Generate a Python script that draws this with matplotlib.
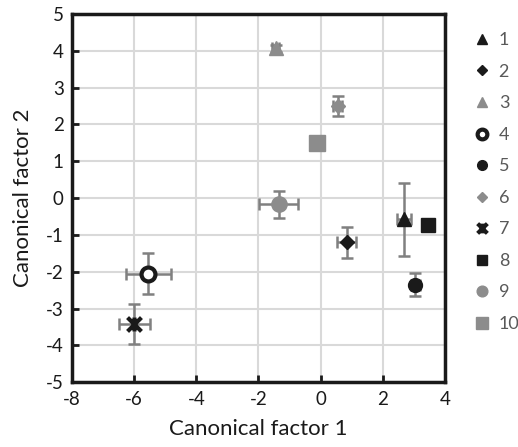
import matplotlib.pyplot as plt
from matplotlib.path import Path
import numpy as np

labels = ["1", "2", "3", "4", "5", "6", "7", "8", "9", "10"]
x = np.array([2.68, 0.84, -1.45, -5.55, 3.05, 0.55, -6.0, 3.44, -1.35, -0.12])  # canonical factor 1
y = np.array([-0.58, -1.2, 4.06, -2.05, -2.35, 2.5, -3.42, -0.72, -0.17, 1.5])  # canonical factor 2
x_err = np.array([0.22, 0.3, 0.12, 0.72, 0.15, 0.15, 0.5, 0.1, 0.63, 0.0])
y_err = np.array([1.0, 0.42, 0.1, 0.55, 0.32, 0.28, 0.54, 0.1, 0.37, 0.0])

# x with a vertical stroke, like the spreadsheet "star" marker
star = Path([(-1, -1), (1, 1), (-1, 1), (1, -1), (0, -1), (0, 1)],
            [Path.MOVETO, Path.LINETO, Path.MOVETO, Path.LINETO, Path.MOVETO, Path.LINETO])

black = "#1a1a1a"
grey = "#8c8c8c"
markers = ["^", "D", "^", "o", "o", "D", star, "s", "o", "s"]
colors = [black, black, grey, "white", black, grey, black, black, grey, grey]
edges = [black, black, grey, black, black, grey, black, black, grey, grey]
sizes = [10, 7.5, 10, 10, 10, 7.5, 10, 9.5, 11, 11.5]

plt.rcParams["font.family"] = ["Lato", "DejaVu Sans"]
plt.rcParams["axes.unicode_minus"] = False

fig = plt.figure(figsize=(5.18, 4.47), dpi=100)
ax = fig.add_axes([0.139, 0.145, 0.72, 0.824])

err_customize = dict(fmt="none",
                     ecolor="#808080",
                     elinewidth=1.8,
                     capsize=4.5,
                     capthick=1.8,
                     zorder=3)

handles = []
for i in range(len(labels)):
    if x_err[i] > 0 or y_err[i] > 0:
        ax.errorbar(x[i], y[i], xerr=x_err[i], yerr=y_err[i], **err_customize)
    h, = ax.plot(x[i], y[i], linestyle="none", marker=markers[i], ms=sizes[i],
                 mfc=colors[i], mec=edges[i],
                 mew=3 if labels[i] in ("4", "7") else 1, zorder=4)
    handles.append(h)

ax.set_xlim(-8, 4)
ax.set_ylim(-5, 5)
ax.set_xticks(np.arange(-8, 5, 2))
ax.set_yticks(np.arange(-5, 6, 1))
ax.grid(True, color="#d9d9d9", linewidth=1.5)
ax.set_axisbelow(True)
for s in ax.spines.values():
    s.set_linewidth(2.5)
    s.set_color(black)
ax.tick_params(axis="both", direction="in", length=5, width=2, labelsize=13.5, colors=black, pad=6)

ax.set_xlabel("Canonical factor 1", fontsize=16, color=black, labelpad=8)
ax.set_ylabel("Canonical factor 2", fontsize=16, color=black, labelpad=9)

leg = fig.legend(handles, labels, loc="upper left", bbox_to_anchor=(0.9, 0.948),
                 frameon=False, fontsize=13, labelcolor="#595959", handlelength=0.8,
                 handletextpad=0.5, labelspacing=0.86, markerscale=0.7, borderpad=0)

fig.savefig("out.png", dpi=100)
